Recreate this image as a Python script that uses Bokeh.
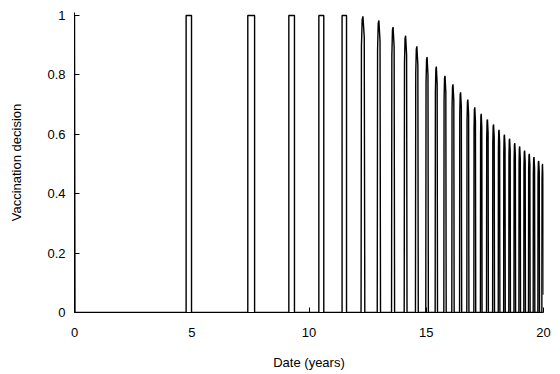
from bokeh.plotting import figure
from bokeh.models import Range1d, FixedTicker
from bokeh.embed import file_html
from bokeh.resources import INLINE

# Pulses of the vaccination decision: start / end (years) and peak value
pulse_start = [0.0, 4.76, 7.39, 9.14, 10.42, 11.41, 12.22, 12.91, 13.52, 14.06,
               14.54, 14.98, 15.38, 15.75, 16.09, 16.42, 16.73, 17.03, 17.31, 17.57,
               17.83, 18.07, 18.30, 18.52, 18.74, 18.95, 19.16, 19.36, 19.56, 19.76, 19.93]
pulse_end = [0.02, 4.99, 7.68, 9.38, 10.63, 11.60, 12.38, 13.05, 13.65, 14.18,
             14.66, 15.09, 15.48, 15.85, 16.19, 16.51, 16.82, 17.11, 17.38, 17.65,
             17.91, 18.14, 18.37, 18.59, 18.81, 19.02, 19.23, 19.43, 19.63, 19.83, 20.0]
pulse_peak = [1.0, 1.0, 1.0, 1.0, 1.0, 1.0, 0.997, 0.983, 0.961, 0.932,
              0.896, 0.86, 0.828, 0.797, 0.768, 0.741, 0.717, 0.691, 0.669, 0.65,
              0.633, 0.615, 0.599, 0.585, 0.57, 0.559, 0.545, 0.534, 0.523, 0.51, 0.5]
last_value = 0.06

x_ticks = [0, 5, 10, 15, 20]
y_ticks = [0, 0.2, 0.4, 0.6, 0.8, 1]
y_labels = {0: "0", 0.2: "0.2", 0.4: "0.4", 0.6: "0.6", 0.8: "0.8", 1: "1"}

xs, ys = [], []
n = len(pulse_start)
for i, (s, e, pk) in enumerate(zip(pulse_start, pulse_end, pulse_peak)):
    w = e - s
    end_v = last_value if i == n - 1 else 0.0
    if s == 0.0:
        xs += [s, e]
        ys += [pk, 0.0]
        continue
    if pk >= 0.999 and w > 0.15:
        xs += [s, s, e, e]
        ys += [0.0, pk, pk, end_v]
    else:
        xs += [s, s + 0.1 * w, s + 0.3 * w, s + 0.5 * w, e - 0.15 * w, e]
        ys += [0.0, 0.9 * pk, 0.99 * pk, pk, 0.93 * pk, end_v]

p = figure(width=560, height=374, output_backend="svg", toolbar_location=None,
           x_range=Range1d(0, 20), y_range=Range1d(0, 1.01),
           min_border_left=74, min_border_right=17, min_border_top=12, min_border_bottom=62)

p.line(xs, ys, line_color="black", line_width=1.4)

p.grid.visible = False
p.outline_line_color = None
p.background_fill_color = "white"
p.border_fill_color = "white"

for ax in (p.xaxis[0], p.yaxis[0]):
    ax.axis_line_color = "black"
    ax.axis_line_width = 1
    ax.major_tick_in = 5
    ax.major_tick_out = 0
    ax.minor_tick_line_color = None
    ax.major_tick_line_color = "black"
    ax.major_label_text_font = "Liberation Sans"
    ax.major_label_text_font_size = "13px"
    ax.major_label_text_color = "black"
    ax.axis_label_text_font = "Liberation Sans"
    ax.axis_label_text_font_size = "13px"
    ax.axis_label_text_font_style = "normal"
    ax.axis_label_text_color = "black"

p.xaxis[0].ticker = FixedTicker(ticks=x_ticks)
p.yaxis[0].ticker = FixedTicker(ticks=y_ticks)
p.yaxis[0].major_label_overrides = y_labels
p.xaxis[0].axis_label = "Date (years)"
p.yaxis[0].axis_label = "Vaccination decision"
p.xaxis[0].major_label_standoff = 15
p.xaxis[0].axis_label_standoff = 15
p.yaxis[0].major_label_standoff = 9
p.yaxis[0].axis_label_standoff = 20

open("out.html", "w").write(file_html(p, INLINE))
